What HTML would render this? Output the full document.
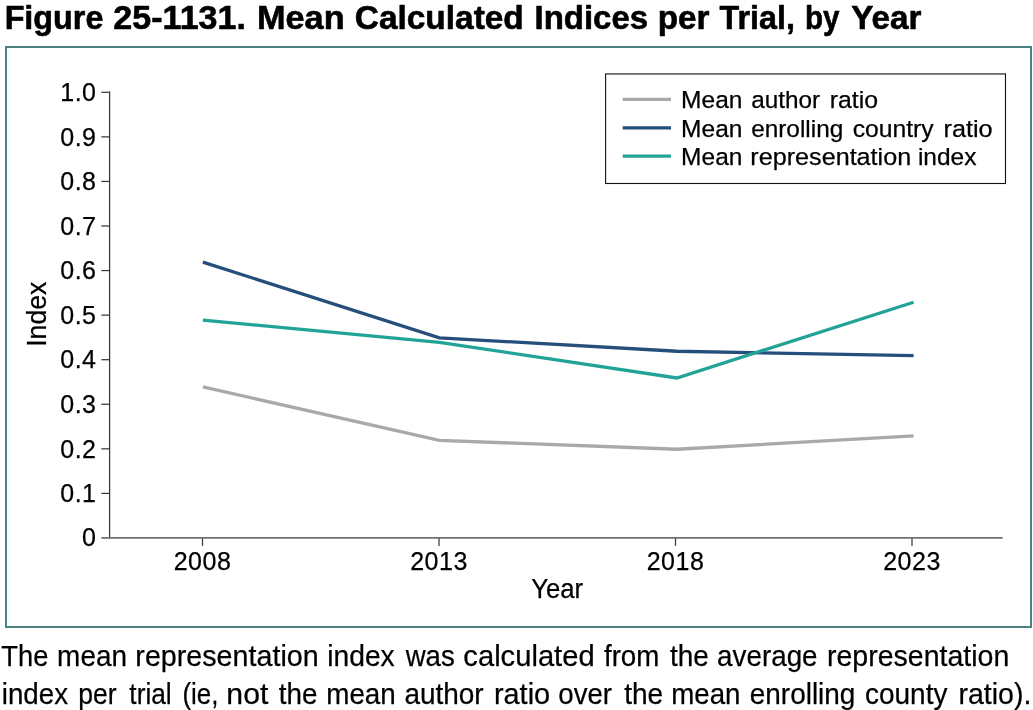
<!DOCTYPE html>
<html lang="en">
<head>
<meta charset="utf-8">
<title>Figure 25-1131. Mean Calculated Indices per Trial, by Year</title>
<style>
html,body{margin:0;padding:0;background:#fff;}
body{width:1033px;height:710px;overflow:hidden;position:relative;font-family:"Liberation Sans",sans-serif;color:#000;}
svg{position:absolute;left:0;top:0;display:block;}
text{font-family:"Liberation Sans",sans-serif;fill:#000;stroke:#000;stroke-width:0.25px;stroke-linejoin:round;}
.t{font-weight:bold;stroke-width:0.6px;}
</style>
</head>
<body>
<svg width="1033" height="710" viewBox="0 0 1033 710">
<!-- title -->
<text class="t" y="28.9" font-size="33.4"><tspan x="4.63" textLength="98.72" lengthAdjust="spacingAndGlyphs">Figure</tspan> <tspan x="113.39" textLength="132.58" lengthAdjust="spacingAndGlyphs">25-1131.</tspan> <tspan x="257.01" textLength="87.60" lengthAdjust="spacingAndGlyphs">Mean</tspan> <tspan x="354.81" textLength="168.98" lengthAdjust="spacingAndGlyphs">Calculated</tspan> <tspan x="534.49" textLength="113.60" lengthAdjust="spacingAndGlyphs">Indices</tspan> <tspan x="657.77" textLength="51.75" lengthAdjust="spacingAndGlyphs">per</tspan> <tspan x="719.55" textLength="75.31" lengthAdjust="spacingAndGlyphs">Trial,</tspan> <tspan x="805.00" textLength="34.56" lengthAdjust="spacingAndGlyphs">by</tspan> <tspan x="851.13" textLength="70.19" lengthAdjust="spacingAndGlyphs">Year</tspan></text>
<!-- figure frame -->
<rect x="6" y="47" width="1025" height="580" fill="#fff" stroke="#4b8080" stroke-width="2"/>
<!-- axes -->
<g stroke="#383838" stroke-width="1.25" fill="none">
<line x1="109.6" y1="91.6" x2="109.6" y2="538.80"/>
<line x1="101.4" y1="493.39" x2="109.6" y2="493.39"/>
<line x1="101.4" y1="448.82" x2="109.6" y2="448.82"/>
<line x1="101.4" y1="404.26" x2="109.6" y2="404.26"/>
<line x1="101.4" y1="359.69" x2="109.6" y2="359.69"/>
<line x1="101.4" y1="315.12" x2="109.6" y2="315.12"/>
<line x1="101.4" y1="270.56" x2="109.6" y2="270.56"/>
<line x1="101.4" y1="226.00" x2="109.6" y2="226.00"/>
<line x1="101.4" y1="181.43" x2="109.6" y2="181.43"/>
<line x1="101.4" y1="136.87" x2="109.6" y2="136.87"/>
<line x1="101.4" y1="92.30" x2="109.6" y2="92.30"/>
<line x1="202.5" y1="537.95" x2="202.5" y2="545.95"/>
<line x1="439.0" y1="537.95" x2="439.0" y2="545.95"/>
<line x1="675.5" y1="537.95" x2="675.5" y2="545.95"/>
<line x1="912.0" y1="537.95" x2="912.0" y2="545.95"/>
</g>
<line x1="101.4" y1="537.95" x2="1002.6" y2="537.95" stroke="#707070" stroke-width="1.7"/>
<!-- tick labels -->
<g font-size="25" text-anchor="end" letter-spacing="0.5">
<text x="96.5" y="545.85">0</text>
<text x="96.5" y="502.19">0.1</text>
<text x="96.5" y="457.62">0.2</text>
<text x="96.5" y="413.06">0.3</text>
<text x="96.5" y="368.49">0.4</text>
<text x="96.5" y="323.93">0.5</text>
<text x="96.5" y="279.36">0.6</text>
<text x="96.5" y="234.80">0.7</text>
<text x="96.5" y="190.23">0.8</text>
<text x="96.5" y="145.67">0.9</text>
<text x="96.5" y="101.10">1.0</text>
</g>
<g font-size="25" text-anchor="middle" letter-spacing="0.5">
<text x="202.5" y="570.1">2008</text>
<text x="439.0" y="570.1">2013</text>
<text x="675.5" y="570.1">2018</text>
<text x="912.0" y="570.1">2023</text>
</g>
<!-- axis titles -->
<text y="597.8" font-size="28"><tspan x="531.25" textLength="51.93" lengthAdjust="spacingAndGlyphs">Year</tspan></text>
<g transform="translate(46.3 0) rotate(-90)">
<text y="0" font-size="28.2"><tspan x="-346.83" textLength="65.28" lengthAdjust="spacingAndGlyphs">Index</tspan></text>
</g>
<!-- data series -->
<polyline points="202.9,386.88 439.4,440.36 676.9,449.27 913.6,435.90" fill="none" stroke="#a7a9ac" stroke-width="3.3" stroke-linejoin="miter"/>
<polyline points="202.9,262.10 439.4,337.86 676.9,351.23 913.6,355.68" fill="none" stroke="#254f7a" stroke-width="3.3" stroke-linejoin="miter"/>
<polyline points="202.9,320.03 439.4,342.31 676.9,377.97 913.6,302.21" fill="none" stroke="#22a397" stroke-width="3.3" stroke-linejoin="miter"/>
<!-- legend -->
<rect x="605.6" y="73.95" width="399.9" height="109.55" fill="#fff" stroke="#111" stroke-width="1.1"/>
<line x1="622.7" y1="99.4" x2="671" y2="99.4" stroke="#a7a9ac" stroke-width="3.3"/>
<text y="107.8" font-size="24.3"><tspan x="681.14" textLength="61.29" lengthAdjust="spacingAndGlyphs">Mean</tspan> <tspan x="751.19" textLength="68.98" lengthAdjust="spacingAndGlyphs">author</tspan> <tspan x="829.80" textLength="48.26" lengthAdjust="spacingAndGlyphs">ratio</tspan></text>
<line x1="622.7" y1="127.9" x2="671" y2="127.9" stroke="#254f7a" stroke-width="3.3"/>
<text y="136.7" font-size="24.3"><tspan x="681.14" textLength="61.29" lengthAdjust="spacingAndGlyphs">Mean</tspan> <tspan x="751.19" textLength="92.03" lengthAdjust="spacingAndGlyphs">enrolling</tspan> <tspan x="852.68" textLength="80.97" lengthAdjust="spacingAndGlyphs">country</tspan> <tspan x="943.57" textLength="49.10" lengthAdjust="spacingAndGlyphs">ratio</tspan></text>
<line x1="622.7" y1="156.1" x2="671" y2="156.1" stroke="#22a397" stroke-width="3.3"/>
<text y="165.3" font-size="24.3"><tspan x="681.14" textLength="61.29" lengthAdjust="spacingAndGlyphs">Mean</tspan> <tspan x="750.38" textLength="160.78" lengthAdjust="spacingAndGlyphs">representation</tspan> <tspan x="917.92" textLength="58.53" lengthAdjust="spacingAndGlyphs">index</tspan></text>
<!-- caption -->
<text y="665.9" font-size="29.6"><tspan x="1.32" textLength="47.14" lengthAdjust="spacingAndGlyphs">The</tspan> <tspan x="57.10" textLength="69.92" lengthAdjust="spacingAndGlyphs">mean</tspan> <tspan x="135.36" textLength="183.30" lengthAdjust="spacingAndGlyphs">representation</tspan> <tspan x="327.18" textLength="67.57" lengthAdjust="spacingAndGlyphs">index</tspan> <tspan x="405.68" textLength="49.13" lengthAdjust="spacingAndGlyphs">was</tspan> <tspan x="463.34" textLength="131.35" lengthAdjust="spacingAndGlyphs">calculated</tspan> <tspan x="603.95" textLength="55.43" lengthAdjust="spacingAndGlyphs">from</tspan> <tspan x="669.95" textLength="38.94" lengthAdjust="spacingAndGlyphs">the</tspan> <tspan x="717.08" textLength="100.50" lengthAdjust="spacingAndGlyphs">average</tspan> <tspan x="826.97" textLength="182.38" lengthAdjust="spacingAndGlyphs">representation</tspan></text>
<text y="703.8" font-size="29.6"><tspan x="1.72" textLength="66.33" lengthAdjust="spacingAndGlyphs">index</tspan> <tspan x="78.29" textLength="38.39" lengthAdjust="spacingAndGlyphs">per</tspan> <tspan x="129.35" textLength="42.33" lengthAdjust="spacingAndGlyphs">trial</tspan> <tspan x="182.43" textLength="36.06" lengthAdjust="spacingAndGlyphs">(ie,</tspan> <tspan x="226.36" textLength="41.98" lengthAdjust="spacingAndGlyphs">not</tspan> <tspan x="278.65" textLength="38.73" lengthAdjust="spacingAndGlyphs">the</tspan> <tspan x="326.21" textLength="69.60" lengthAdjust="spacingAndGlyphs">mean</tspan> <tspan x="404.38" textLength="79.31" lengthAdjust="spacingAndGlyphs">author</tspan> <tspan x="493.95" textLength="56.18" lengthAdjust="spacingAndGlyphs">ratio</tspan> <tspan x="558.29" textLength="53.70" lengthAdjust="spacingAndGlyphs">over</tspan> <tspan x="624.15" textLength="39.04" lengthAdjust="spacingAndGlyphs">the</tspan> <tspan x="671.22" textLength="69.29" lengthAdjust="spacingAndGlyphs">mean</tspan> <tspan x="749.78" textLength="105.64" lengthAdjust="spacingAndGlyphs">enrolling</tspan> <tspan x="864.98" textLength="82.47" lengthAdjust="spacingAndGlyphs">county</tspan> <tspan x="958.47" textLength="72.86" lengthAdjust="spacingAndGlyphs">ratio).</tspan></text>
</svg>
</body>
</html>
